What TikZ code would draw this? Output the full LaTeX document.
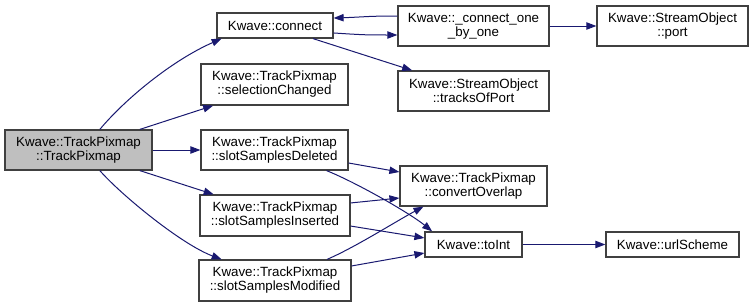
\documentclass[tikz,border=0pt]{standalone}
\usepackage{fontspec}
\setmainfont{Liberation Sans}
\usepackage{tikz}
\usetikzlibrary{arrows.meta,positioning}
\definecolor{CallEdge}{HTML}{191970}
\definecolor{RootFill}{HTML}{BFBFBF}
\definecolor{BoxLine}{HTML}{404040}

\begin{document}
\begin{tikzpicture}[x=0.75pt,y=-0.75pt,
    fn/.style={draw=BoxLine,line width=0.9pt,fill=white,inner sep=0pt,align=center,
      font=\fontsize{10}{10.5}\selectfont,minimum height=30pt},
    fn1/.style={fn,minimum height=18.75pt},
    root/.style={fn,fill=RootFill},
    call/.style={CallEdge,line width=0.75pt,-{Triangle[length=7.5pt,width=5.5pt]}}]
      \useasboundingbox (0,0) rectangle (753,307);
      \node[root,minimum width=110.25pt] (ctor) at (78.5,150) {Kwave::TrackPixmap\\::TrackPixmap};
      \node[fn1,minimum width=87pt] (connect) at (275,25.5) {Kwave::connect};
      \node[fn,minimum width=110.25pt,minimum height=30.75pt] (selchg) at (274.5,84.5) {Kwave::TrackPixmap\\::selectionChanged};
      \node[fn,minimum width=110.25pt] (deleted) at (274.5,150) {Kwave::TrackPixmap\\::slotSamplesDeleted};
      \node[fn,minimum width=112.5pt,minimum height=30.75pt] (inserted) at (275,215.5) {Kwave::TrackPixmap\\::slotSamplesInserted};
      \node[fn,minimum width=114pt,minimum height=30.75pt] (modified) at (275,280.5) {Kwave::TrackPixmap\\::slotSamplesModified};
      \node[fn,minimum width=113.25pt] (onebyone) at (473.5,26) {Kwave::\_connect\_one\\\_by\_one};
      \node[fn,minimum width=113.25pt] (port) at (672.5,26) {Kwave::StreamObject\\::port};
      \node[fn,minimum width=113.25pt] (tracks) at (473.5,91) {Kwave::StreamObject\\::tracksOfPort};
      \node[fn,minimum width=110.25pt] (overlap) at (473.5,186) {Kwave::TrackPixmap\\::convertOverlap};
      \node[fn1,minimum width=72.75pt] (toint) at (473.5,244.5) {Kwave::toInt};
      \node[fn1,minimum width=99.75pt] (url) at (672.5,244.5) {Kwave::urlScheme};

      \draw[call] ([xshift=16pt]ctor.north) .. controls +(25,-30) and +(-50,22) .. ([xshift=-40pt]connect.south);
      \draw[call] ([xshift=46pt]ctor.north) -- ([xshift=-46pt]selchg.south);
      \draw[call] (ctor.east) -- (deleted.west);
      \draw[call] ([xshift=46pt]ctor.south) -- ([xshift=-46pt]inserted.north);
      \draw[call] ([xshift=16pt]ctor.south) .. controls +(22,25) and +(-40,-15) .. ([xshift=-40pt]modified.north);
      \draw[call] ([yshift=-5.6pt]connect.east) .. controls +(30,2) and +(-30,0) .. ([yshift=-6.75pt]onebyone.west);
      \draw[call] ([yshift=7.5pt]onebyone.west) .. controls +(-30,0) and +(30,-1) .. ([yshift=5.6pt]connect.east);
      \draw[call] ([xshift=28.5pt]connect.south) -- ([xshift=-46pt]tracks.north);
      \draw[call] (onebyone.east) -- (port.west);
      \draw[call] ([yshift=-9.75pt]deleted.east) -- ([yshift=10.5pt]overlap.west);
      \draw[call] ([xshift=39pt]deleted.south) .. controls +(30,12) and +(-22,-18) .. ([xshift=-31pt]toint.north);
      \draw[call] ([yshift=9.4pt]inserted.east) -- ([yshift=-9pt]overlap.west);
      \draw[call] ([yshift=-7.9pt]inserted.east) -- ([yshift=4.9pt]toint.west);
      \draw[call] ([xshift=39pt]modified.north) .. controls +(28,-12) and +(-28,15) .. ([xshift=-37.5pt]overlap.south);
      \draw[call] ([yshift=10.9pt]modified.east) -- ([yshift=-6.4pt]toint.west);
      \draw[call] (toint.east) -- (url.west);
    \end{tikzpicture}
\end{document}
